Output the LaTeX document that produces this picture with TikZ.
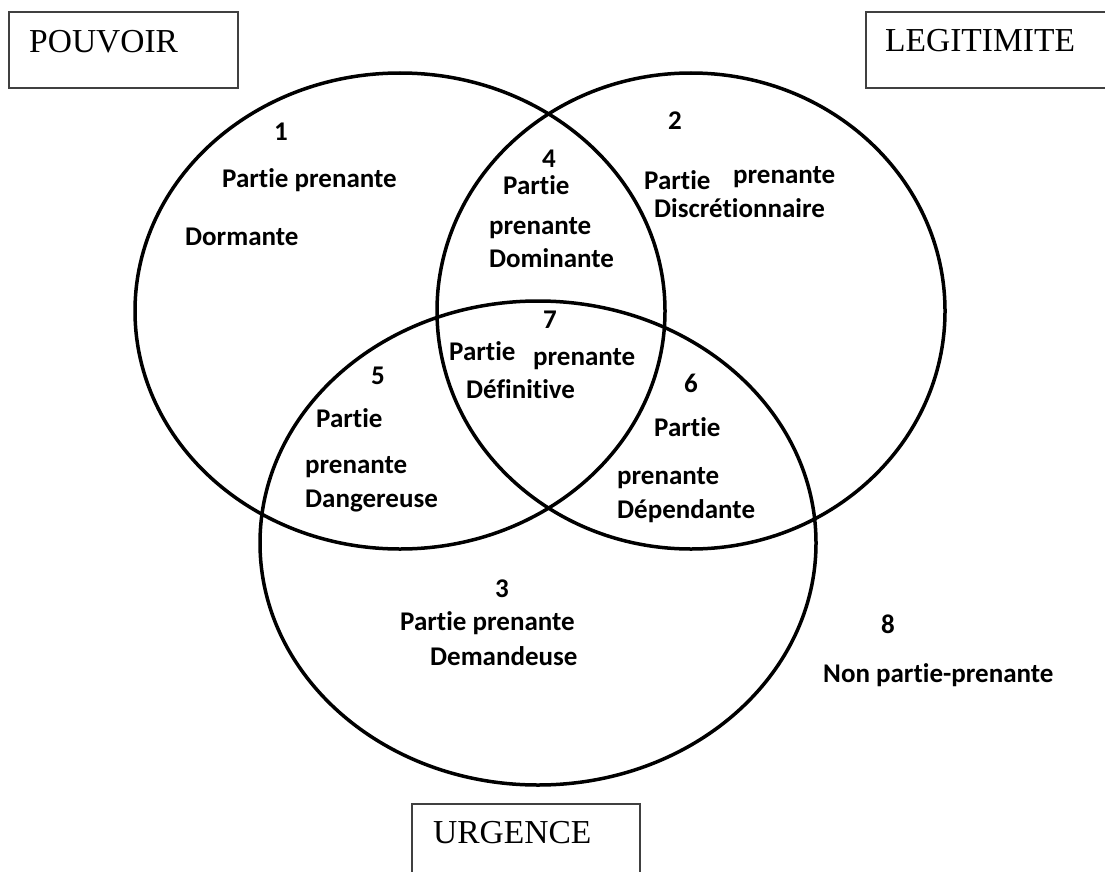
\documentclass[tikz,border=0pt]{standalone}
\usepackage{fontspec}
\setmainfont{Carlito}[Ligatures=NoCommon, BoldFont={Carlito Bold}]
\newfontfamily\tnr{Liberation Serif}
\usetikzlibrary{shapes.geometric}
\begin{document}
\begin{tikzpicture}[x=1pt,y=-1pt,
  setcircle/.style={draw=black, line width=3.5pt, ellipse, inner sep=0pt, outer sep=0pt},
  titlebox/.style={draw=black!75, line width=1.6pt},
  titletext/.style={font=\tnr\fontsize{33.5}{40}\selectfont, anchor=base west, inner sep=0pt},
  lbl/.style={font=\bfseries\fontsize{27}{32}\selectfont, anchor=base west, inner sep=0pt},
  num/.style={font=\bfseries\fontsize{27}{32}\selectfont, anchor=base, inner sep=0pt}]
\useasboundingbox (0,0) rectangle (1105,872);
\clip (0,0) rectangle (1105,872);
\fill[white] (0,0) rectangle (1105,872);
% title boxes
\draw[titlebox] (9,12) rectangle (238,88);
\draw[titlebox] (866,12) rectangle (1115,88);
\draw[titlebox] (412,804) rectangle (640,890);
\node[titletext] (tP) at (29,53) {POUVOIR};
\node[titletext] (tL) at (885,52) {LEGITIMITE};
\node[titletext] (tU) at (433,843) {URGENCE};
% circles
\node[setcircle, minimum width=530pt, minimum height=476pt] (c1) at (400,311) {};
\node[setcircle, minimum width=508pt, minimum height=476pt] (c2) at (691,311) {};
\node[setcircle, minimum width=556pt, minimum height=484pt] (c3) at (538,543) {};
% region 1
\node[num] (n1) at (281,141) {1};
\node[lbl] (a1) at (222,187) {Partie prenante};
\node[lbl] (b1) at (185,245) {Dormante};
% region 2
\node[num] (n2) at (675,130) {2};
\node[lbl] (a2) at (644,189) {Partie};
\node[lbl] (b2) at (733,183) {prenante};
\node[lbl] (d2) at (654,217) {Discrétionnaire};
% region 4
\node[num] (n4) at (549,167) {4};
\node[lbl] (a4) at (503,194) {Partie};
\node[lbl] (b4) at (489,234) {prenante};
\node[lbl] (d4) at (489,267) {Dominante};
% region 7
\node[num] (n7) at (550,328) {7};
\node[lbl] (a7) at (449,360) {Partie};
\node[lbl] (b7) at (533,365) {prenante};
\node[lbl] (d7) at (466,398) {Définitive};
% region 5
\node[num] (n5) at (378,384) {5};
\node[lbl] (a5) at (316,427) {Partie};
\node[lbl] (b5) at (305,473) {prenante};
\node[lbl] (d5) at (305,507) {Dangereuse};
% region 6
\node[num] (n6) at (691,392) {6};
\node[lbl] (a6) at (654,436) {Partie};
\node[lbl] (b6) at (617,484) {prenante};
\node[lbl] (d6) at (617,518) {Dépendante};
% region 3
\node[num] (n3) at (502,597) {3};
\node[lbl] (a3) at (400,630) {Partie prenante};
\node[lbl] (d3) at (430,665) {Demandeuse};
% region 8
\node[num] (n8) at (888,633) {8};
\node[lbl] (a8) at (823,682) {Non partie-prenante};
\end{tikzpicture}
\end{document}
